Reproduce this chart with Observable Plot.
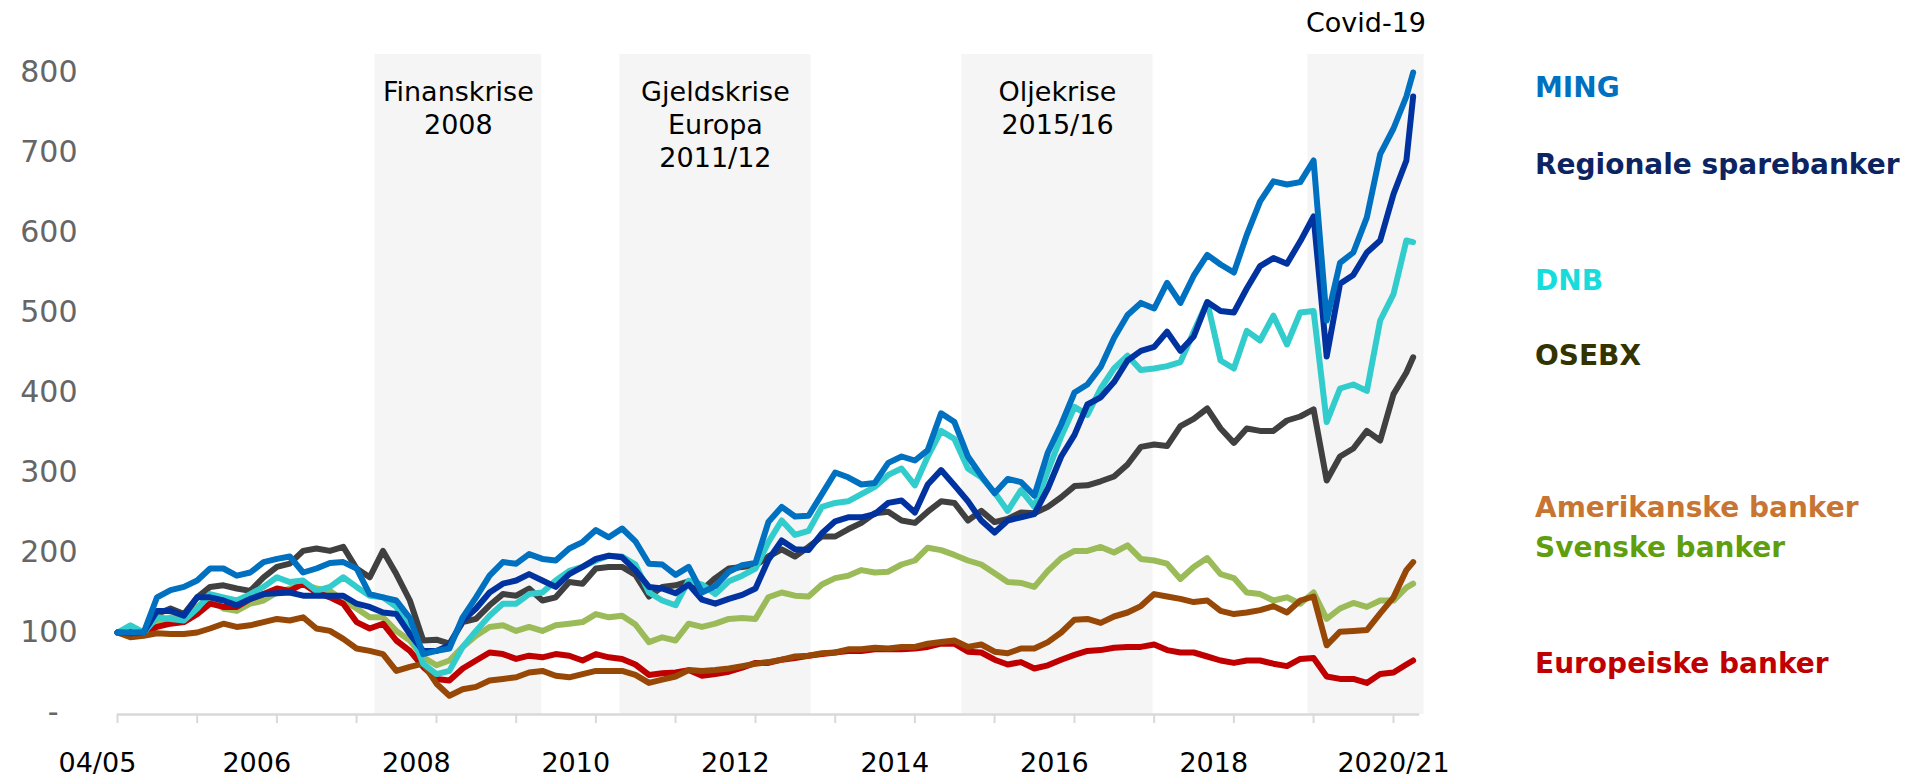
<!DOCTYPE html>
<html>
<head>
<meta charset="utf-8">
<script src="https://cdn.jsdelivr.net/npm/d3@7"></script>
<script src="https://cdn.jsdelivr.net/npm/@observablehq/plot@0.6"></script>
<style>
  html, body { margin: 0; padding: 0; background: #fff; }
  #wrap { position: relative; width: 1914px; height: 778px; font-family: "DejaVu Sans", sans-serif; overflow: hidden; }
  #wrap svg { position: absolute; left: 0; top: 0; }
  .leg { position: absolute; left: 1535px; font-weight: bold; font-size: 28px; line-height: 1; white-space: nowrap; transform: translateY(-50%); }
</style>
</head>
<body>
<div id="wrap"></div>
<script>
// ---- data ----
const dates = (
  "2005-01 2005-03 2005-05 2005-07 2005-09 2005-11 " +
  "2006-01 2006-03 2006-05 2006-07 2006-09 2006-11 " +
  "2007-01 2007-03 2007-05 2007-07 2007-09 2007-11 " +
  "2008-01 2008-03 2008-05 2008-07 2008-09 2008-11 " +
  "2009-01 2009-03 2009-05 2009-07 2009-09 2009-11 " +
  "2010-01 2010-03 2010-05 2010-07 2010-09 2010-11 " +
  "2011-01 2011-03 2011-05 2011-07 2011-09 2011-11 " +
  "2012-01 2012-03 2012-05 2012-07 2012-09 2012-11 " +
  "2013-01 2013-03 2013-05 2013-07 2013-09 2013-11 " +
  "2014-01 2014-03 2014-05 2014-07 2014-09 2014-11 " +
  "2015-01 2015-03 2015-05 2015-07 2015-09 2015-11 " +
  "2016-01 2016-03 2016-05 2016-07 2016-09 2016-11 " +
  "2017-01 2017-03 2017-05 2017-07 2017-09 2017-11 " +
  "2018-01 2018-03 2018-05 2018-07 2018-09 2018-11 " +
  "2019-01 2019-03 2019-05 2019-07 2019-09 2019-11 " +
  "2020-01 2020-03 2020-05 2020-07 2020-09 2020-11 " +
  "2021-01 2021-03 2021-04").split(" ");

const ming = [100,100,100,144,153,157,165,180,180,171,175,188,192,195,175,180,187,188,180,148,144,140,118,73,77,80,119,144,171,188,186,198,192,190,205,213,228,219,
  230,214,186,185,172,182,150,158,176,184,187,238,257,245,246,273,300,294,285,287,312,320,315,328,374,363,320,296,274,292,288,271,325,360,400,410,432,
  468,497,512,505,537,512,546,572,560,550,597,639,664,660,663,690,490,562,575,619,698,730,770,
  800];
const regionale = [100,99,100,127,127,121,144,144,140,134,142,148,149,150,146,146,146,146,136,132,125,123,98,77,77,84,115,130,150,161,165,173,165,157,173,182,192,196,
  194,178,157,155,149,160,141,136,142,147,155,191,215,204,203,224,239,244,244,248,262,265,250,285,303,284,264,240,225,240,244,248,280,320,347,385,394,
  413,440,452,457,476,452,470,513,502,500,530,558,568,561,589,620,445,536,547,575,590,648,690,
  770];
const dnb = [100,109,100,119,117,115,130,148,144,140,148,157,169,163,165,152,157,169,157,146,144,132,102,61,48,52,82,102,121,136,136,148,150,165,177,182,190,196,
  195,185,150,140,134,165,160,148,164,171,180,213,240,222,227,257,262,264,273,282,297,305,284,320,352,342,305,294,275,252,278,257,302,345,382,372,405,
  430,446,428,430,433,438,476,513,440,430,477,465,496,460,500,502,363,405,410,402,490,523,590,
  588];
const osebx = [100,105,100,123,130,123,144,157,159,155,152,169,182,186,202,205,202,207,180,169,202,173,140,90,91,86,113,117,134,148,146,155,140,144,163,161,180,182,
  182,172,145,157,159,164,153,168,180,182,184,195,204,195,207,220,220,229,237,249,251,240,237,251,264,262,240,252,238,242,250,249,257,269,283,284,289,
  295,310,332,335,333,358,367,380,355,337,355,352,352,365,370,379,290,320,330,352,340,398,425,
  444];
const svenske = [100,98,99,113,119,119,132,144,130,127,136,140,150,155,161,155,152,140,130,119,119,102,90,69,59,65,82,96,107,109,102,107,102,109,111,113,123,119,
  121,110,88,94,90,111,107,111,117,118,117,144,150,146,145,160,168,171,178,175,176,185,190,206,203,197,190,185,174,163,162,157,177,193,202,202,207,
  200,209,192,190,186,167,182,193,173,168,150,148,140,144,136,150,117,130,137,132,140,140,156,
  161];
const europeiske = [100,98,99,107,111,113,123,136,132,132,142,148,155,152,161,150,144,136,113,105,111,90,77,57,42,40,55,65,75,73,67,71,69,73,71,65,73,69,
  67,60,47,49,50,53,46,48,51,56,62,62,66,68,71,73,75,77,77,79,79,79,80,82,86,86,76,75,66,60,63,55,59,66,72,77,78,
  81,82,82,85,78,75,75,70,65,62,65,65,61,58,67,68,45,42,42,37,48,50,60,
  65];
const amerikanske = [100,94,96,99,98,98,100,105,111,107,109,113,117,115,119,105,102,92,80,77,73,52,57,61,36,21,29,32,40,42,44,50,52,46,44,48,52,52,
  52,47,37,41,45,53,52,53,55,58,61,63,66,70,71,74,75,79,79,81,80,82,82,86,88,90,82,85,76,74,80,80,88,100,116,117,112,
  120,125,133,148,145,142,138,140,127,123,125,128,133,125,140,145,84,101,102,103,124,144,178,
  188];

const seriesNames = ["Svenske banker", "Europeiske banker", "Amerikanske banker", "OSEBX", "DNB", "Regionale sparebanker", "MING"];
const seriesValues = [svenske, europeiske, amerikanske, osebx, dnb, regionale, ming];
const lineColors = ["#9bbb59", "#c00000", "#974806", "#404040", "#33cccc", "#0033a0", "#0070c0"];

const bandLabels = ["Finanskrise\n2008", "Gjeldskrise\nEuropa\n2011/12", "Oljekrise\n2015/16", "Covid-19"];
const bandStart = ["2008-03-25", "2011-04-21", "2015-08-04", "2019-12-06"];
const bandEnd = ["2010-04-28", "2013-09-12", "2017-12-27", "2021-05-21"];

const yearTicks = ["2005-01","2006-01","2007-01","2008-01","2009-01","2010-01","2011-01","2012-01","2013-01",
  "2014-01","2015-01","2016-01","2017-01","2018-01","2019-01","2020-01","2021-01"];
const xLabelDates = ["2004-10","2006-10","2008-10","2010-10","2012-10","2014-10","2016-10","2018-10","2021-01"];
const xLabels = ["04/05","2006","2008","2010","2012","2014","2016","2018","2020/21"];
const yTicks = [0,100,200,300,400,500,600,700,800];

const legendNames = ["MING", "Regionale sparebanker", "DNB", "OSEBX", "Amerikanske banker", "Svenske banker", "Europeiske banker"];
const legendColors = ["#0070c0", "#0c2461", "#17dcdc", "#333300", "#c87533", "#5f9e0c", "#c00000"];

// ---- build ----
const P = s => new Date(s);
const D = dates.map(P);
const bands = bandLabels.map((label, i) => ({label, x1: P(bandStart[i]), x2: P(bandEnd[i])}));
bands.forEach(b => b.xc = new Date((+b.x1 + +b.x2) / 2));
const labelMap = new Map(xLabelDates.map((d, i) => [+P(d), xLabels[i]]));

const lineMarks = seriesNames.map((name, si) =>
  Plot.line(seriesValues[si].map((v, i) => ({date: D[i], value: v})), {
    x: "date", y: "value", stroke: lineColors[si], strokeWidth: 6,
    strokeLinejoin: "round", strokeLinecap: "round"
  })
);

const yMin = -2.5, yMax = 822.5;
const chart = Plot.plot({
  width: 1914, height: 778,
  marginLeft: 117, marginRight: 521, marginTop: 54, marginBottom: 64,
  x: {type: "utc", domain: [P("2005-01"), P("2021-01")], label: null},
  y: {domain: [yMin, yMax], label: null},
  style: {fontFamily: "DejaVu Sans", background: "transparent", overflow: "visible"},
  marks: [
    Plot.rect(bands, {x1: "x1", x2: "x2", fill: "#f5f5f5"}),
    Plot.ruleY([{y: yMin, x1: P("2005-01"), x2: P("2021-05")}], {y: "y", x1: "x1", x2: "x2", stroke: "#d9d9d9", strokeWidth: 2.5}),
    Plot.axisX(yearTicks.map(P), {tickSize: 9, tickFormat: () => "", stroke: "#d9d9d9", strokeWidth: 2}),
    Plot.axisX(xLabelDates.map(P), {tickSize: 0, tickPadding: 38, tickFormat: d => labelMap.get(+d), fontSize: 27, fill: "#000"}),
    Plot.axisY(yTicks.filter(v => v > 0), {tickSize: 0, tickPadding: 40, fontSize: 30, fill: "#666", tickFormat: d => String(d)}),
    Plot.axisY(yTicks.filter(v => v === 0), {tickSize: 0, tickPadding: 59, fontSize: 30, fill: "#666", tickFormat: () => "-"}),
    ...lineMarks,
    Plot.text(bands.slice(0, 3), {x: "xc", text: "label", frameAnchor: "top", lineAnchor: "top", dy: 23, fontSize: 27, lineHeight: 1.22, fill: "#000"}),
    Plot.text(bands.slice(3), {x: "xc", text: "label", frameAnchor: "top", lineAnchor: "top", dy: -42, fontSize: 27, fill: "#000"})
  ]
});

const wrap = document.getElementById("wrap");
wrap.appendChild(chart);

const legendTop = [88, 165, 281, 356, 508, 548, 664];
legendNames.forEach((n, i) => {
  const el = document.createElement("div");
  el.className = "leg";
  el.style.top = legendTop[i] + "px";
  el.style.color = legendColors[i];
  el.textContent = n;
  wrap.appendChild(el);
});
</script>
</body>
</html>
